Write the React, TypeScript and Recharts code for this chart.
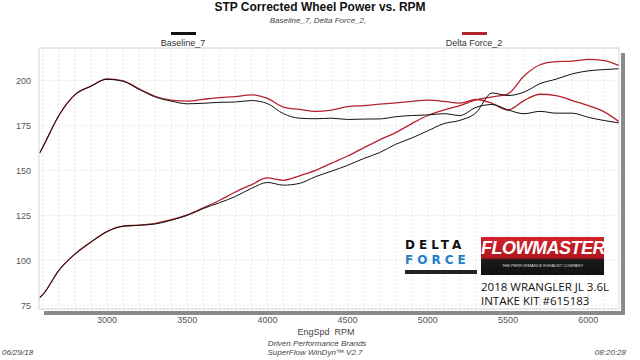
import React from "react";
import {
  CartesianGrid,
  Line,
  LineChart,
  ReferenceLine,
  XAxis,
  YAxis,
} from "recharts";

// engine speed samples (rpm)
const rpm = [
  2580, 2600, 2700, 2800, 2900, 3000, 3100, 3200, 3300, 3400, 3500, 3600,
  3700, 3800, 3900, 4000, 4100, 4200, 4300, 4400, 4500, 4600, 4700, 4800,
  4900, 5000, 5100, 5200, 5300, 5400, 5500, 5600, 5700, 5800, 5900, 6000,
  6100, 6190,
];

// torque curves (upper pair)
const baseTorque = [
  159.7, 163, 180.5, 192, 196.8, 200.6, 199.5, 195, 190.8, 188.5, 187, 187.3,
  187.8, 188, 188.8, 187.1, 181.5, 179, 178.7, 179, 178.3, 178.5, 178.6, 179.8,
  180.5, 180.8, 181.5, 180.5, 185, 186.6, 183.6, 181.5, 182.8, 181.8, 181.8,
  179.5, 177.7, 176.4,
];
const deltaTorque = [
  159.7, 163, 180.5, 192, 196.8, 200.8, 199.8, 195.3, 191.2, 189, 188.5, 189.5,
  190.4, 191, 192, 190, 185.2, 183.9, 182.8, 183.5, 185.4, 186, 186.8, 187.5,
  188.3, 189, 188.4, 187.4, 189.4, 187.3, 183.5, 188.8, 192.3, 191.6, 188.8,
  186, 182.5, 177.2,
];

// power curves (lower pair)
const basePower = [
  79.3, 81, 94.5, 103.5, 110.2, 116, 119, 119.5, 120.2, 122.3, 125, 128.8, 132,
  135.5, 140, 143.3, 141.8, 142.8, 146.5, 149.6, 152.8, 156.6, 159.9, 164.5,
  168, 172, 176, 177.8, 182, 193, 191.6, 193.5, 198.2, 200.7, 203.6, 205.3,
  206, 206.5,
];
const deltaPower = [
  79.3, 81, 94.5, 103.5, 110.2, 116, 119, 119.6, 120.6, 122.6, 125.3, 129.2,
  133.3, 138, 142, 145.8, 144.5, 147, 150, 154, 158, 162.5, 167, 171, 176,
  180.5, 183.5, 186, 189.2, 190.8, 192.5, 202.5, 208.7, 210.4, 210.7, 211.7,
  211, 208.4,
];

const xTicks = [3000, 3500, 4000, 4500, 5000, 5500, 6000];
const yTicks = [75, 100, 125, 150, 175, 200];
const gridRpm = Array.from({ length: 36 }, (_, i) => 2600 + i * 100);

const data = rpm.map((r, i) => ({
  rpm: r,
  baseTorque: baseTorque[i],
  deltaTorque: deltaTorque[i],
  basePower: basePower[i],
  deltaPower: deltaPower[i],
}));

const BLACK = "#111111";
const RED = "#b3232a";
const font = "'Liberation Sans', Arial, sans-serif";

const App: React.FC = () => {
  return (
    <div
      style={{
        position: "absolute",
        left: 0,
        top: 0,
        width: 640,
        height: 360,
        background: "#fff",
        fontFamily: font,
        color: "#333",
      }}
    >
      {/* shadow bars of the plot box */}
      <div style={{ position: "absolute", left: 44, top: 311, width: 581, height: 4, background: "#8a8a8a" }} />
      <div style={{ position: "absolute", left: 621, top: 53, width: 4, height: 262, background: "#8a8a8a" }} />

      <div style={{ position: "absolute", left: 0, top: 0 }}>
        <LineChart
          width={640}
          height={360}
          data={data}
          margin={{ top: 48, right: 21, bottom: 31, left: 0 }}
        >
          <CartesianGrid vertical={false} stroke="#e8e8e8" strokeDasharray="2 2" />
          {gridRpm.map((g) => (
            <ReferenceLine key={g} x={g} stroke="#e6e6e6" strokeDasharray="2 2" />
          ))}
          <ReferenceLine y={218} stroke="#d8d8d8" />
          <ReferenceLine x={6192} stroke="#d8d8d8" />
          <XAxis
            dataKey="rpm"
            type="number"
            domain={[2576, 6192]}
            ticks={xTicks}
            allowDataOverflow
            height={20}
            tickLine={false}
            axisLine={{ stroke: "#d8d8d8" }}
            tick={{ fontSize: 9, fill: "#555", fontFamily: font }}
          />
          <YAxis
            type="number"
            domain={[73, 218]}
            ticks={yTicks}
            allowDataOverflow
            width={39}
            tickLine={false}
            axisLine={{ stroke: "#d8d8d8" }}
            tick={{ fontSize: 9, fill: "#555", fontFamily: font }}
          />
          <Line type="monotone" dataKey="deltaTorque" stroke={RED} strokeWidth={1.3} dot={false} isAnimationActive={false} />
          <Line type="monotone" dataKey="deltaPower" stroke={RED} strokeWidth={1.3} dot={false} isAnimationActive={false} />
          <Line type="monotone" dataKey="baseTorque" stroke={BLACK} strokeWidth={1} dot={false} isAnimationActive={false} />
          <Line type="monotone" dataKey="basePower" stroke={BLACK} strokeWidth={1} dot={false} isAnimationActive={false} />
        </LineChart>
      </div>

      {/* titles */}
      <div style={{ position: "absolute", left: 0, width: 640, top: 0, textAlign: "center", fontSize: 12, fontWeight: "bold", color: "#111" }}>
        STP Corrected Wheel Power vs. RPM
      </div>
      <div style={{ position: "absolute", left: 0, width: 636, top: 16, textAlign: "center", fontSize: 8, fontStyle: "italic", color: "#444" }}>
        Baseline_7, Delta Force_2,
      </div>

      {/* legend */}
      <div style={{ position: "absolute", left: 171, top: 32, width: 25, height: 3, background: BLACK }} />
      <div style={{ position: "absolute", left: 143, width: 80, top: 38, textAlign: "center", fontSize: 9, color: "#333" }}>
        Baseline_7
      </div>
      <div style={{ position: "absolute", left: 462, top: 32, width: 25, height: 3, background: RED }} />
      <div style={{ position: "absolute", left: 434, width: 80, top: 38, textAlign: "center", fontSize: 9, color: "#333" }}>
        Delta Force_2
      </div>

      {/* axis title and footer */}
      <div style={{ position: "absolute", left: 286, width: 80, top: 327, textAlign: "center", fontSize: 9, color: "#444" }}>
        EngSpd&nbsp;&nbsp;RPM
      </div>
      <div style={{ position: "absolute", left: 217, width: 200, top: 339, textAlign: "center", fontSize: 8, fontStyle: "italic", color: "#444" }}>
        Driven Performance Brands
      </div>
      <div style={{ position: "absolute", left: 215, width: 200, top: 348, textAlign: "center", fontSize: 8, fontStyle: "italic", color: "#444" }}>
        SuperFlow WinDyn™ V2.7
      </div>
      <div style={{ position: "absolute", left: 2, top: 348, fontSize: 8, fontStyle: "italic", color: "#444" }}>06/29/18</div>
      <div style={{ position: "absolute", right: 14, top: 348, fontSize: 8, fontStyle: "italic", color: "#444" }}>08:20:28</div>

      {/* logos and caption */}
      <div style={{ position: "absolute", left: 405, top: 238, width: 72, fontWeight: 900, lineHeight: "15px", fontSize: 12, letterSpacing: 4, fontFamily: "'DejaVu Sans', sans-serif" }}>
        <div style={{ color: "#111" }}>DELTA</div>
        <div style={{ color: "#1f80c8" }}>FORCE</div>
        <div style={{ marginTop: 2, height: 4, background: "#222" }} />
      </div>
      <div
        style={{
          position: "absolute",
          left: 481,
          top: 237,
          width: 123,
          height: 38,
          background: "linear-gradient(#d3222a 0%, #b0161f 55%, #1a1a1a 60%, #111 100%)",
          color: "#fff",
          textAlign: "center",
        }}
      >
        <div style={{ fontSize: 18, fontWeight: 900, fontStyle: "italic", lineHeight: "22px", letterSpacing: -0.5 }}>FLOWMASTER</div>
        <div style={{ fontSize: 4, marginTop: 4, color: "#ddd" }}>THE PERFORMANCE EXHAUST COMPANY</div>
      </div>
      <div style={{ position: "absolute", left: 481, top: 280, fontSize: 11.5, color: "#111", fontFamily: "'Open Sans', sans-serif", lineHeight: "14px" }}>
        <div>2018 WRANGLER JL 3.6L</div>
        <div>INTAKE KIT #615183</div>
      </div>
    </div>
  );
};

export default App;
